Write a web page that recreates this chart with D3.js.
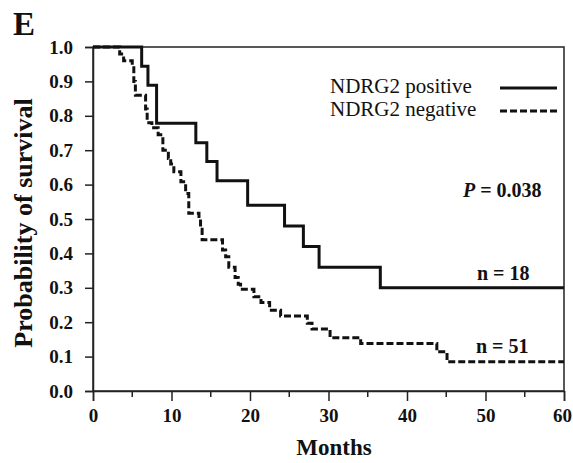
<!DOCTYPE html>
<html>
<head>
<meta charset="utf-8">
<script src="https://cdn.jsdelivr.net/npm/d3@7"></script>
<style>
  body { margin: 0; background: #fff; }
  svg text { font-family: "Liberation Serif", "Times New Roman", serif; fill: #111; }
</style>
</head>
<body>
<div id="km"></div>
<script>
// survival curves (months, probability)
var posMonths = [0, 6.2, 7.0, 8.1, 13.1, 14.5, 15.8, 19.7, 24.4, 26.8, 28.8, 36.6, 60];
var posSurv   = [1, 0.944, 0.889, 0.778, 0.722, 0.667, 0.611, 0.54, 0.48, 0.42, 0.36, 0.30, 0.30];

var negMonths = [0, 3.4, 3.9, 5.0, 5.2, 5.4, 6.7, 6.9, 7.5, 8.3, 8.9, 9.6, 9.9, 10.3, 11.2, 11.8, 12.2,
                 13.5, 13.7, 13.9, 16.5, 16.9, 17.3, 18.1, 18.5, 18.8, 20.5, 21.4, 22.5, 23.9, 27.3,
                 27.9, 30.2, 34.1, 43.8, 45.1, 60];
var negSurv   = [1, 0.98, 0.96, 0.94, 0.90, 0.86, 0.82, 0.78, 0.765, 0.745, 0.70, 0.676, 0.66, 0.637, 0.608, 0.574, 0.517,
                 0.50, 0.47, 0.44, 0.41, 0.39, 0.36, 0.33, 0.31, 0.296, 0.274, 0.257, 0.235, 0.218, 0.197,
                 0.18, 0.155, 0.138, 0.114, 0.085, 0.085];

var xTicks = [0, 10, 20, 30, 40, 50, 60];
var xMinor = [5, 15, 25, 35, 45, 55];
var yTicks = [0, 0.1, 0.2, 0.3, 0.4, 0.5, 0.6, 0.7, 0.8, 0.9, 1.0];

var width = 573, height = 463;
var margin = { top: 47, right: 9, bottom: 72, left: 93 };

var svg = d3.select("#km")
  .append("svg")
  .attr("width", width)
  .attr("height", height);

var x = d3.scaleLinear().domain([0, 60]).range([margin.left, width - margin.right]);
var y = d3.scaleLinear().domain([0, 1]).range([height - margin.bottom, margin.top]);

// frame (top and right)
svg.append("rect")
  .attr("x", x(0)).attr("y", y(1))
  .attr("width", x(60) - x(0)).attr("height", y(0) - y(1))
  .attr("fill", "none").attr("stroke", "#222").attr("stroke-width", 1.5);

// x axis
var gx = svg.append("g")
  .attr("transform", "translate(0," + y(0) + ")")
  .call(d3.axisBottom(x).tickValues(xTicks).tickSize(10).tickPadding(8).tickFormat(d3.format("d")));
gx.append("g").selectAll("line")
  .data(xMinor).enter().append("line")
  .attr("x1", function(d) { return x(d); }).attr("x2", function(d) { return x(d); })
  .attr("y1", 0).attr("y2", 6)
  .attr("stroke", "#222").attr("stroke-width", 1.5);

// y axis
var gy = svg.append("g")
  .attr("transform", "translate(" + x(0) + ",0)")
  .call(d3.axisLeft(y).tickValues(yTicks).tickSize(8).tickPadding(12).tickFormat(d3.format(".1f")));

[gx, gy].forEach(function(g) {
  g.select(".domain").attr("stroke", "#222").attr("stroke-width", 1.5);
  g.selectAll(".tick line").attr("stroke", "#222").attr("stroke-width", 1.5);
  g.selectAll(".tick text")
    .style("font-family", "'Liberation Serif', 'Times New Roman', serif")
    .style("font-size", "19px").style("font-weight", "bold").attr("fill", "#111");
});
// last label sits at the page edge, pull it in a little
gx.selectAll(".tick text").filter(function(d) { return d === 60; }).attr("dx", -2);

// curves
var line = d3.line()
  .x(function(d) { return x(d[0]); })
  .y(function(d) { return y(d[1]); })
  .curve(d3.curveStepAfter);

var posData = d3.zip(posMonths, posSurv);
var negData = d3.zip(negMonths, negSurv);

svg.append("path").datum(posData)
  .attr("d", line).attr("fill", "none")
  .attr("stroke", "#111").attr("stroke-width", 3);

svg.append("path").datum(negData)
  .attr("d", line).attr("fill", "none")
  .attr("stroke", "#111").attr("stroke-width", 3)
  .attr("stroke-dasharray", "7,3");

// legend
var legend = [
  { label: "NDRG2 positive", dash: null, yPos: 93 },
  { label: "NDRG2 negative", dash: "7,3", yPos: 116 }
];
legend.forEach(function(l) {
  svg.append("text").attr("x", 330).attr("y", l.yPos)
    .style("font-size", "21px").text(l.label);
  svg.append("line")
    .attr("x1", 500).attr("x2", 557)
    .attr("y1", l.yPos - 5).attr("y2", l.yPos - 5)
    .attr("stroke", "#111").attr("stroke-width", 3)
    .attr("stroke-dasharray", l.dash);
});

// annotations
var pText = svg.append("text").attr("x", 463).attr("y", 197)
  .style("font-size", "20px").style("font-weight", "bold");
pText.append("tspan").style("font-style", "italic").text("P");
pText.append("tspan").text(" = 0.038");

svg.append("text").attr("x", 477).attr("y", 280)
  .style("font-size", "20px").style("font-weight", "bold").text("n = 18");
svg.append("text").attr("x", 476).attr("y", 353)
  .style("font-size", "20px").style("font-weight", "bold").text("n = 51");

// axis titles
svg.append("text").attr("x", 334).attr("y", 455)
  .attr("text-anchor", "middle")
  .style("font-size", "23px").style("font-weight", "bold")
  .text("Months");

svg.append("text")
  .attr("transform", "translate(32," + 223 + ") rotate(-90)")
  .attr("text-anchor", "middle")
  .style("font-size", "26px").style("font-weight", "bold")
  .text("Probability of survival");

// panel letter
svg.append("text").attr("x", 13).attr("y", 35)
  .style("font-size", "33px").style("font-weight", "bold")
  .text("E");
</script>
</body>
</html>
